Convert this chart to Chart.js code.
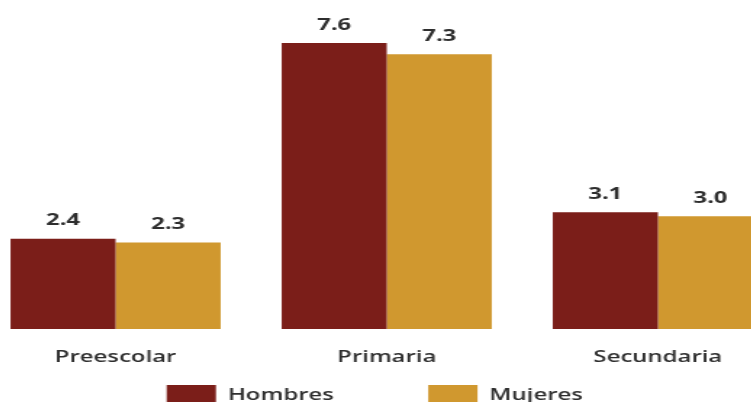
<!DOCTYPE html>
<html>
<head>
<meta charset="utf-8">
<script src="https://cdn.jsdelivr.net/npm/chart.js@4"></script>
<style>
  html, body { margin: 0; padding: 0; background: #fff; overflow: hidden; }
  #wrap { position: relative; width: 751px; height: 402px; overflow: hidden; }
  /* the source picture is stretched sideways, so the canvas is too */
  #chart { position: absolute; left: -20.5px; top: 0; transform: scaleX(1.45); transform-origin: 0 0; }
</style>
</head>
<body>
<div id="wrap"><canvas id="chart" width="561" height="415"></canvas></div>
<script>
const categories = ["Preescolar", "Primaria", "Secundaria"];
const hombres = [2.4, 7.6, 3.1];
const mujeres = [2.3, 7.3, 3.0];
const seriesNames = ["Hombres", "Mujeres"];

const color = {
  hombres: "#7b1e19",
  mujeres: "#d0982f",
  text: "#2e2e2e"
};

// value labels above every bar
const valueLabels = {
  id: "valueLabels",
  afterDatasetsDraw(chart) {
    const ctx = chart.ctx;
    ctx.save();
    ctx.font = "700 16.5px 'Open Sans'";
    ctx.fillStyle = color.text;
    ctx.textAlign = "center";
    ctx.textBaseline = "middle";
    chart.data.datasets.forEach((ds, i) => {
      chart.getDatasetMeta(i).data.forEach((bar, j) => {
        ctx.fillText(ds.data[j].toFixed(1), bar.x, bar.y - 18);
      });
    });
    ctx.restore();
  }
};

// wide gap between the two legend entries (em spaces after the text)
function legendLabels(chart) {
  const items = Chart.defaults.plugins.legend.labels.generateLabels(chart);
  items[0].text += "\u2003\u2003\u2003";
  items[1].text += "\u2003";
  return items;
}

new Chart(document.getElementById("chart").getContext("2d"), {
  type: "bar",
  data: {
    labels: categories,
    datasets: [
      { label: seriesNames[0], data: hombres, backgroundColor: color.hombres },
      { label: seriesNames[1], data: mujeres, backgroundColor: color.mujeres }
    ]
  },
  options: {
    responsive: false,
    animation: false,
    devicePixelRatio: 1,
    layout: { padding: { top: 28, left: 0, right: 0, bottom: 0 } },
    datasets: { bar: { categoryPercentage: 0.775, barPercentage: 1.0 } },
    scales: {
      x: {
        grid: { display: false },
        border: { display: false },
        ticks: {
          color: color.text,
          padding: 10,
          font: { family: "'Open Sans'", size: 16.5, weight: 600 }
        },
        afterFit: (scale) => { scale.height = 40.5; }
      },
      y: { display: false, min: 0, max: 8 }
    },
    plugins: {
      tooltip: { enabled: false },
      legend: {
        position: "bottom",
        labels: {
          boxWidth: 34,
          boxHeight: 20,
          padding: 15.5,
          color: color.text,
          font: { family: "'Open Sans'", size: 16.5, weight: 600 },
          generateLabels: legendLabels
        }
      }
    }
  },
  plugins: [valueLabels]
});
</script>
</body>
</html>
